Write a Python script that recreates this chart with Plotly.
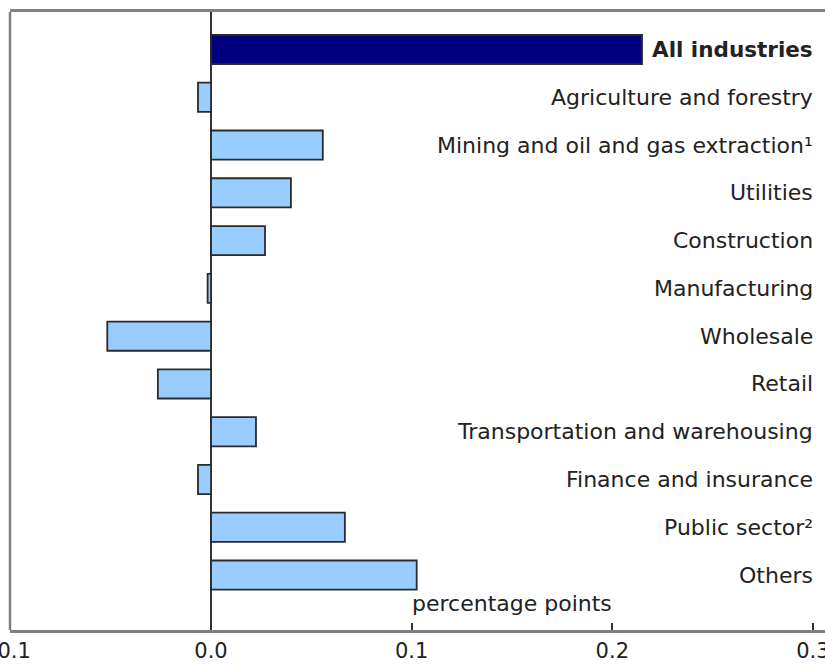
import plotly.graph_objects as go

categories = [
    "All industries",
    "Agriculture and forestry",
    "Mining and oil and gas extraction¹",
    "Utilities",
    "Construction",
    "Manufacturing",
    "Wholesale",
    "Retail",
    "Transportation and warehousing",
    "Finance and insurance",
    "Public sector²",
    "Others",
]
values = [0.2148, -0.0065, 0.0557, 0.0398, 0.0269, -0.0017, -0.0517, -0.0265,
          0.0224, -0.0065, 0.0667, 0.1025]
bar_colors = ["#00007F"] + ["#99CCFF"] * 11
tick_vals = [-0.1, 0.0, 0.1, 0.2, 0.3]
tick_text = ["-0.1", "0.0", "0.1", "0.2", "0.3"]
axis_title = "percentage points"

FONT = "DejaVu Sans"
FS = 22

fig = go.Figure()
fig.add_trace(go.Bar(
    x=values, y=categories, orientation="h",
    marker=dict(color=bar_colors, line=dict(color="#2b2b2b", width=1.8)),
    width=0.61, showlegend=False, hoverinfo="x+y",
))

annotations = []
for i, c in enumerate(categories):
    txt = f"<b>{c}</b>" if i == 0 else c
    annotations.append(dict(
        x=1, xref="paper", y=c, yref="y", text=txt, showarrow=False,
        xanchor="right", yanchor="middle", xshift=-10,
        font=dict(family=FONT, size=FS if i else FS - 0.5, color="#222222"),
    ))
annotations.append(dict(
    x=0.1, xref="x", y=0, yref="paper", text=axis_title, showarrow=False,
    xanchor="left", yanchor="bottom", xshift=-2, yshift=12,
    font=dict(family=FONT, size=FS, color="#222222"),
))

fig.update_layout(
    width=825, height=666,
    margin=dict(l=10, r=0, t=12, b=36),
    plot_bgcolor="white", paper_bgcolor="white",
    annotations=annotations,
    shapes=[dict(type="line", xref="paper", yref="paper", x0=0, x1=0, y0=0, y1=1,
                 line=dict(color="#808080", width=2.5))],
    xaxis=dict(
        range=[-0.1002, 0.306], tickvals=tick_vals, ticktext=tick_text,
        ticks="inside", ticklen=7, tickwidth=2, tickcolor="#333333",
        showline=True, mirror=True, linecolor="#808080", linewidth=2.5,
        showgrid=False, zeroline=True, zerolinecolor="#333333", zerolinewidth=1.5,
        tickfont=dict(family=FONT, size=FS - 1, color="#222222"),
        ticklabeloverflow="allow",
        automargin=False,
    ),
    yaxis=dict(
        type="category", range=[12.15, -0.785], showticklabels=False,
        showgrid=False, zeroline=False, showline=False, ticks="",
        automargin=False,
    ),
)

fig.write_html("out.html",
               config={"displayModeBar": False},
               post_script="document.body.style.margin='0px';document.body.style.overflow='hidden';")
